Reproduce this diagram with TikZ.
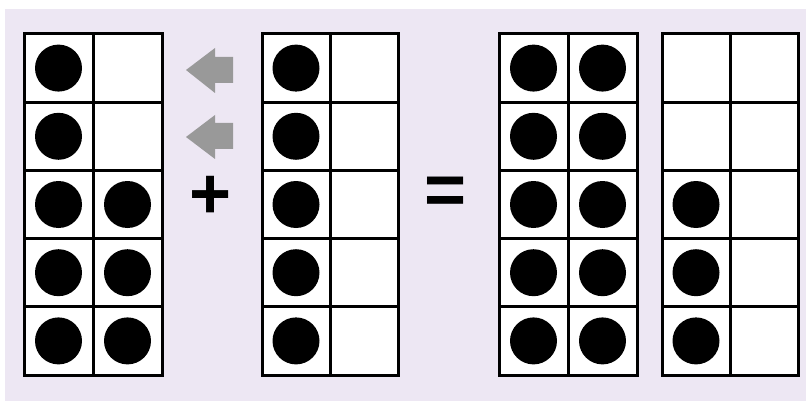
\documentclass[tikz,border=0pt]{standalone}
\usepackage{fontspec}
\setmainfont{Liberation Sans}
\definecolor{bgpurple}{HTML}{EDE7F3}
\definecolor{arrowgray}{HTML}{999999}
\begin{document}
\begin{tikzpicture}[x=1pt,y=-1pt,
  cell/.style={draw=black, line width=3pt, minimum width=#1, minimum height=68.2pt, inner sep=0pt, outer sep=0pt},
  dot/.style={circle, fill=black, minimum size=47pt, inner sep=0pt},
  movearrow/.style={fill=arrowgray},
  sym/.style={inner sep=0pt, font=\bfseries\fontsize{72}{72}\selectfont}]
\useasboundingbox (0,0) rectangle (806,401);
\fill[white] (0,0) rectangle (806,401);
\fill[bgpurple] (5,9) rectangle (806,401);
% frames
\foreach \f/\x/\w in {1/24/69, 2/262/68, 3/499/69, 4/662/68} {
  \fill[white] (\x,34) rectangle ({\x+2*\w},375);
  \foreach \r in {1,...,5} {
    \foreach \c in {1,2} {
      \node[cell=\w pt] (c\f\r\c) at ({\x+(\c-0.5)*\w},{34+(\r-0.5)*68.2}) {};
    }
  }
}
% counters
\foreach \f/\r/\c in {1/1/1,1/2/1,1/3/1,1/3/2,1/4/1,1/4/2,1/5/1,1/5/2,
  2/1/1,2/2/1,2/3/1,2/4/1,2/5/1,
  3/1/1,3/1/2,3/2/1,3/2/2,3/3/1,3/3/2,3/4/1,3/4/2,3/5/1,3/5/2,
  4/3/1,4/4/1,4/5/1} {
  \node[dot] (d\f\r\c) at (c\f\r\c) {};
}
% arrows
\fill[movearrow] (186,70) -- (215,48) -- (215,57) -- (233,57) -- (233,83) -- (215,83) -- (215,93) -- cycle;
\fill[movearrow] (186,137) -- (215,115) -- (215,123) -- (233,123) -- (233,149) -- (215,149) -- (215,159) -- cycle;
% signs
\node[sym] (plus) at (211,197) {+};
\node[sym] (equals) at (445.5,196) {=};
\end{tikzpicture}
\end{document}
